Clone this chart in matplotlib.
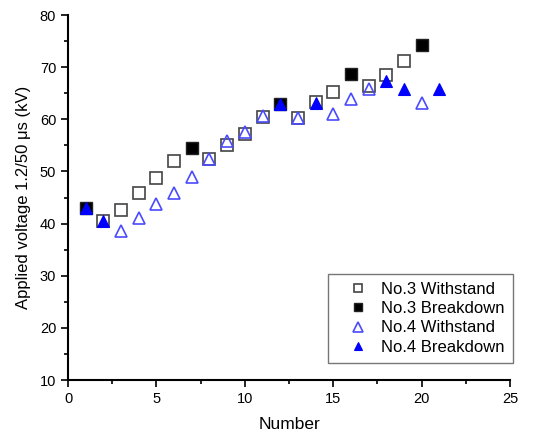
import matplotlib.pyplot as plt
from matplotlib.ticker import MultipleLocator

plt.rcParams['font.family'] = ['Liberation Sans', 'DejaVu Sans']

# No.3 sample
n3_withstand_x = [2, 3, 4, 5, 6, 8, 9, 10, 11, 13, 14, 15, 17, 18, 19]
n3_withstand_y = [40.4, 42.7, 45.9, 48.8, 52.0, 52.3, 55.1, 57.2, 60.5, 60.2, 63.4, 65.2, 66.4, 68.5, 71.2]
n3_breakdown_x = [1, 7, 12, 16, 20]
n3_breakdown_y = [42.9, 54.4, 62.9, 68.6, 74.2]

# No.4 sample
n4_withstand_x = [3, 4, 5, 6, 7, 8, 9, 10, 11, 13, 15, 16, 17, 20]
n4_withstand_y = [38.6, 41.0, 43.7, 45.8, 49.0, 52.4, 55.8, 57.6, 60.7, 60.2, 61.1, 63.8, 65.8, 63.1]
n4_breakdown_x = [1, 2, 12, 14, 18, 19, 21]
n4_breakdown_y = [42.9, 40.4, 62.9, 63.2, 67.4, 65.8, 65.8]

fig = plt.figure(figsize=(5.33, 4.34), dpi=100)
ax = fig.add_axes([0.1276, 0.1244, 0.8294, 0.841])

ax.plot(n3_withstand_x, n3_withstand_y, 's', ms=8, mfc='white', mec='#444444', mew=1.2,
        label='No.3 Withstand')
ax.plot(n3_breakdown_x, n3_breakdown_y, 's', ms=8, mfc='black', mec='#222222', mew=1.0,
        label='No.3 Breakdown')
ax.plot(n4_withstand_x, n4_withstand_y, '^', ms=9, mfc='none', mec='#4a4aff', mew=1.2,
        label='No.4 Withstand')
ax.plot(n4_breakdown_x, n4_breakdown_y, '^', ms=8, mfc='#0000ff', mec='#0000ff', mew=0.8,
        label='No.4 Breakdown')

ax.set_xlim(0, 25)
ax.set_ylim(10, 80)
ax.xaxis.set_major_locator(MultipleLocator(5))
ax.xaxis.set_minor_locator(MultipleLocator(2.5))
ax.yaxis.set_major_locator(MultipleLocator(10))
ax.yaxis.set_minor_locator(MultipleLocator(5))
ax.tick_params(which='major', direction='out', length=5, width=1.2, labelsize=10.5)
ax.tick_params(which='minor', direction='out', length=3, width=1.2)
for s in ['top', 'right']:
    ax.spines[s].set_visible(False)
for s in ['left', 'bottom']:
    ax.spines[s].set_linewidth(1.5)

ax.set_xlabel('Number', fontsize=12.5, labelpad=8)
ax.set_ylabel('Applied voltage 1.2/50 \u03bcs (kV)', fontsize=12,
              family=['Liberation Sans Narrow', 'Liberation Sans'], labelpad=6)

leg = ax.legend(loc='lower right', bbox_to_anchor=(1.007, 0.047), borderaxespad=0,
                fancybox=False, edgecolor='#555555', fontsize=12, handletextpad=0.1,
                labelspacing=0.25, borderpad=0.5, markerscale=0.75, handlelength=2.6)
leg.get_frame().set_linewidth(1.0)

fig.savefig('out.png', dpi=100)
